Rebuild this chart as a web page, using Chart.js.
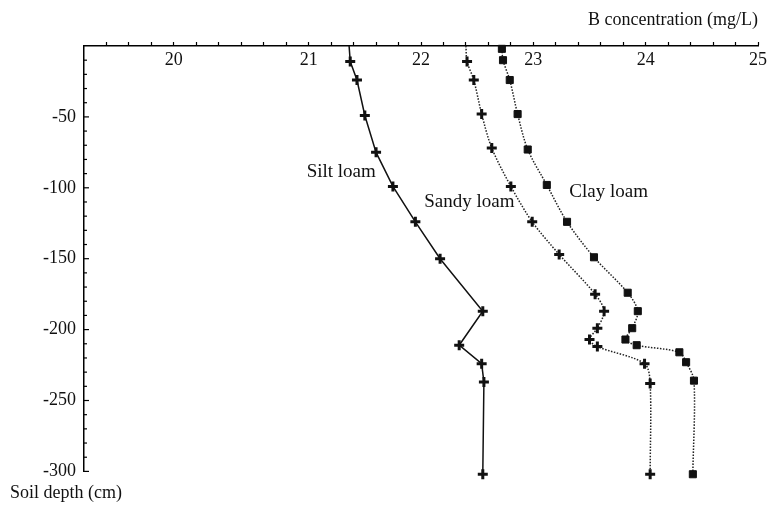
<!DOCTYPE html>
<html>
<head>
<meta charset="utf-8">
<script src="https://cdn.jsdelivr.net/npm/chart.js@4/dist/chart.umd.min.js"></script>
<style>
  html, body { margin: 0; padding: 0; background: #fff; }
  #wrap { width: 773px; height: 508px; }
</style>
</head>
<body>
<div id="wrap"><canvas id="grafica"></canvas></div>
<script>
// Datos: profundidad (cm) y concentración de B (mg/L)
const siltDepth = [0, -11, -24, -49, -75, -99, -124, -150, -187, -211, -224, -237, -302];
const siltConc  = [21.36, 21.37, 21.43, 21.50, 21.60, 21.75, 21.95, 22.17, 22.55, 22.34, 22.54, 22.56, 22.55];

const sandyDepth = [0, -11, -24, -48, -72, -99, -124, -147, -175, -187, -199, -207, -212, -224, -238, -302];
const sandyConc  = [22.40, 22.41, 22.47, 22.54, 22.63, 22.80, 22.99, 23.23, 23.55, 23.63, 23.57, 23.50, 23.57, 23.99, 24.04, 24.04];

const clayDepth = [-2, -10, -24, -48, -73, -98, -124, -149, -174, -187, -199, -207, -211, -216, -223, -236, -302];
const clayConc  = [22.72, 22.73, 22.79, 22.86, 22.95, 23.12, 23.30, 23.54, 23.84, 23.93, 23.88, 23.82, 23.92, 24.30, 24.36, 24.43, 24.42];

// Etiquetas del eje superior (en la figura original el "20" cae sobre 19.8)
const xTickValues = [19.8, 21, 22, 23, 24, 25];
const xTickLabels = ['20', '21', '22', '23', '24', '25'];

// Textos dentro de la gráfica
const seriesNames = ['Silt loam', 'Sandy loam', 'Clay loam'];
const namePos = [[21.29, -89], [22.43, -110], [23.67, -103]];

const serif = 'Liberation Serif, Times New Roman, serif';

function toPoints(conc, depth) {
    return conc.map((c, i) => ({ x: c, y: depth[i] }));
}

// Marcas menores del eje x cada 0.2
const xMinor = [];
for (let i = 1; i <= 30; i++) xMinor.push(+(19 + i * 0.2).toFixed(2));

// Marcas hacia dentro del eje y y nombres de las series
const extras = {
    id: 'extras',
    afterDatasetsDraw(chart) {
        const ctx = chart.ctx;
        const ys = chart.scales.y;
        const xs = chart.scales.x;
        const left = chart.chartArea.left;
        ctx.save();
        ctx.strokeStyle = '#000';
        ctx.lineWidth = 1.2;
        ys.ticks.forEach(t => {
            if (t.value === 0) return;
            const py = ys.getPixelForValue(t.value);
            const len = t.value % 50 === 0 ? 5 : 3;
            ctx.beginPath();
            ctx.moveTo(left, py);
            ctx.lineTo(left + len, py);
            ctx.stroke();
        });
        ctx.fillStyle = '#111';
        ctx.font = '19px ' + serif;
        ctx.textAlign = 'center';
        ctx.textBaseline = 'middle';
        seriesNames.forEach((n, i) => {
            ctx.fillText(n, xs.getPixelForValue(namePos[i][0]), ys.getPixelForValue(namePos[i][1]));
        });
        ctx.restore();
    }
};

const ctx = document.getElementById('grafica').getContext('2d');
new Chart(ctx, {
    type: 'scatter',
    data: {
        datasets: [{
            label: 'Silt loam',
            data: toPoints(siltConc, siltDepth),
            showLine: true,
            borderColor: '#111',
            borderWidth: 1.5,
            tension: 0,
            pointStyle: 'cross',
            pointRadius: c => (c.raw && c.raw.y === 0 ? 0 : 5),
            pointBorderWidth: 3,
            pointBorderColor: '#111',
            clip: false
        },
        {
            label: 'Sandy loam',
            data: toPoints(sandyConc, sandyDepth),
            showLine: true,
            borderColor: '#222',
            borderWidth: 1.5,
            borderDash: [1.5, 1.5],
            tension: 0.3,
            pointStyle: 'cross',
            pointRadius: c => (c.raw && c.raw.y === 0 ? 0 : 5),
            pointBorderWidth: 3,
            pointBorderColor: '#111',
            clip: false
        },
        {
            label: 'Clay loam',
            data: toPoints(clayConc, clayDepth),
            showLine: true,
            borderColor: '#222',
            borderWidth: 1.5,
            borderDash: [1.5, 1.5],
            tension: 0.3,
            pointStyle: 'rect',
            pointRadius: 5,
            pointBorderWidth: 1,
            pointBackgroundColor: '#111',
            pointBorderColor: '#111',
            clip: false
        }]
    },
    options: {
        responsive: true,
        maintainAspectRatio: false,
        animation: false,
        layout: { padding: { left: 10, right: 15, top: 0, bottom: 4 } },
        plugins: {
            legend: { display: false },
            tooltip: { enabled: false },
            title: {
                display: true,
                text: 'Soil depth (cm)',
                position: 'bottom',
                align: 'start',
                color: '#111',
                font: { family: serif, size: 18, weight: 'normal' },
                padding: { top: 11, bottom: 0 }
            }
        },
        scales: {
            x: {
                type: 'linear',
                position: 'top',
                min: 19,
                max: 25,
                afterBuildTicks: s => { s.ticks = xMinor.map(v => ({ value: v })); },
                afterFit: s => { s.height = 46; },
                grid: { drawOnChartArea: false, drawTicks: true, tickLength: 4, color: '#000', tickWidth: 1.2 },
                border: { display: true, color: '#000', width: 1.5 },
                ticks: {
                    autoSkip: false,
                    maxRotation: 0,
                    mirror: true,
                    padding: 3,
                    color: '#111',
                    font: { family: serif, size: 18 },
                    callback: v => {
                        const i = xTickValues.findIndex(t => Math.abs(t - v) < 1e-6);
                        return i >= 0 ? xTickLabels[i] : '';
                    }
                },
                title: {
                    display: true,
                    text: 'B concentration (mg/L)',
                    align: 'end',
                    color: '#111',
                    font: { family: serif, size: 18 },
                    padding: { top: 9, bottom: 0 }
                }
            },
            y: {
                type: 'linear',
                min: -300,
                max: 0,
                afterFit: s => { s.width = 74; },
                grid: { display: false, drawTicks: false },
                border: { display: true, color: '#000', width: 1.5 },
                ticks: {
                    stepSize: 10,
                    autoSkip: false,
                    padding: 8,
                    color: '#111',
                    font: { family: serif, size: 18 },
                    callback: v => (v !== 0 && v % 50 === 0 ? String(v) : '')
                }
            }
        }
    },
    plugins: [extras]
});
</script>
</body>
</html>
